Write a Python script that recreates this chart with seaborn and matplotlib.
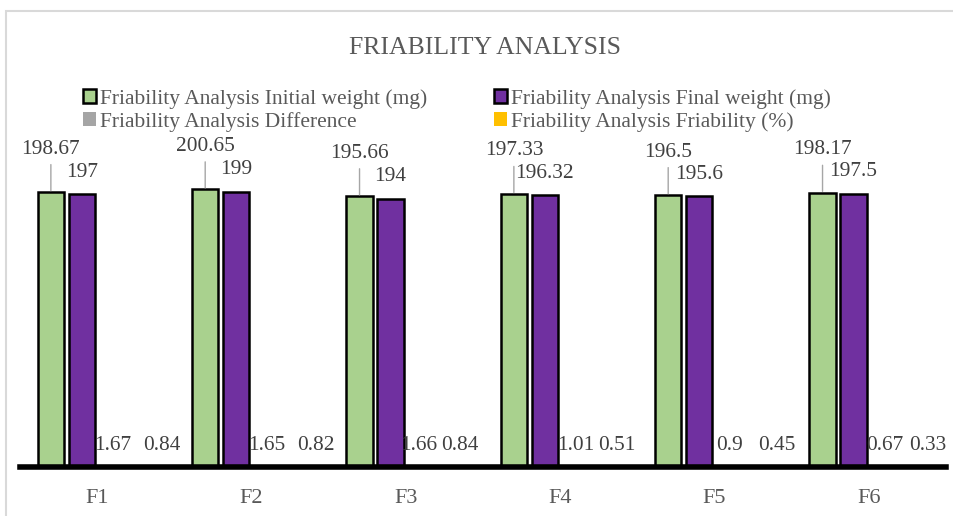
import numpy as np
import pandas as pd
import seaborn as sns
import matplotlib.pyplot as plt
from matplotlib.patches import Patch, Rectangle

# data
formulations = ["F1", "F2", "F3", "F4", "F5", "F6"]
initial_weight = [198.67, 200.65, 195.66, 197.33, 196.5, 198.17]
final_weight = [197, 199, 194, 196.32, 195.6, 197.5]
difference = [1.67, 1.65, 1.66, 1.01, 0.9, 0.67]
friability = [0.84, 0.82, 0.84, 0.51, 0.45, 0.33]

series_names = ["Friability Analysis Initial weight (mg)",
                "Friability Analysis Final weight (mg)",
                "Friability Analysis Difference",
                "Friability Analysis Friability (%)"]
colors = ["#A9D18E", "#7030A0", "#A5A5A5", "#FFC000"]

df = pd.DataFrame({
    "Formulation": formulations * 4,
    "Series": np.repeat(series_names, len(formulations)),
    "Value": initial_weight + final_weight + difference + friability,
})

sns.set_theme(style="white")
plt.rcParams['font.family'] = ['Liberation Serif', 'DejaVu Serif']
plt.rcParams['xtick.labelsize'] = 16

fig = plt.figure(figsize=(9.54, 5.16), dpi=100)
ax = fig.add_axes([20 / 954, 49 / 516, 926 / 954, 346 / 516])

sns.barplot(data=df, x="Formulation", y="Value", hue="Series",
            order=formulations, hue_order=series_names, palette=colors,
            saturation=1, width=0.8, gap=0.15, edgecolor="black", linewidth=1.8,
            errorbar=None, legend=False, ax=ax)

# no outline on the two small series
for cont in ax.containers[2:]:
    for bar in cont:
        bar.set_edgecolor("none")

ax.set_xlim(-0.5, 5.5)
ax.set_ylim(0, 250)
ax.set_yticks([])
ax.set_xlabel("")
ax.set_ylabel("")
for s in ["top", "left", "right"]:
    ax.spines[s].set_visible(False)
ax.spines["bottom"].set_linewidth(4)
ax.spines["bottom"].set_color("black")
ax.tick_params(axis="x", length=0, pad=16, labelcolor="#595959")
for t in ax.get_xticklabels():
    t.set_fontsize(16)

# data labels (small labels were nudged sideways in the original)
lbl = dict(fontsize=15.4, color="#404040", ha="center", va="center",
           textcoords="offset pixels", annotation_clip=False)
gray_nudge = [0, 0, -3, 0, 0, 0]
gold_nudge = [18, 18, 8, 10, 16, 13]
for k, cont in enumerate(ax.containers):
    for i, bar in enumerate(cont):
        x = bar.get_x() + bar.get_width() / 2
        h = bar.get_height()
        txt = f"{h:g}"
        if k == 0:
            ax.annotate(txt, (x, h), xytext=(0, 43),
                        arrowprops=dict(arrowstyle="-", color="#A6A6A6", lw=1,
                                        shrinkA=2, shrinkB=1), **lbl)
        elif k == 1:
            ax.annotate(txt, (x, h), xytext=(0, 22), **lbl)
        elif k == 2:
            ax.annotate(txt, (x, 0), xytext=(gray_nudge[i], 22), **lbl)
        else:
            ax.annotate(txt, (x, 0), xytext=(gold_nudge[i], 22), **lbl)

fig.text(485 / 954, 1 - 48 / 516, "FRIABILITY ANALYSIS", ha="center",
         va="center", fontsize=18.5, color="#595959")

handles = [Patch(facecolor=colors[0], edgecolor="black", linewidth=1.8),
           Patch(facecolor=colors[2], edgecolor="none"),
           Patch(facecolor=colors[1], edgecolor="black", linewidth=1.8),
           Patch(facecolor=colors[3], edgecolor="none")]
labels = [series_names[0], series_names[2], series_names[1], series_names[3]]
fig.legend(handles, labels, ncol=2, loc="upper left",
           bbox_to_anchor=(83 / 954, 1 - 89 / 516), frameon=False,
           fontsize=15.5, handlelength=0.6, handleheight=0.6, handletextpad=0.2,
           columnspacing=3.1, labelspacing=0.15, borderaxespad=0, borderpad=0,
           labelcolor="#595959")

fig.patches.append(Rectangle((6 / 954, -0.1), 1.2, 1 - 11 / 516 + 0.1,
                             transform=fig.transFigure, fill=False,
                             edgecolor="#D9D9D9", linewidth=1.5))

fig.savefig("out.png", dpi=100)
